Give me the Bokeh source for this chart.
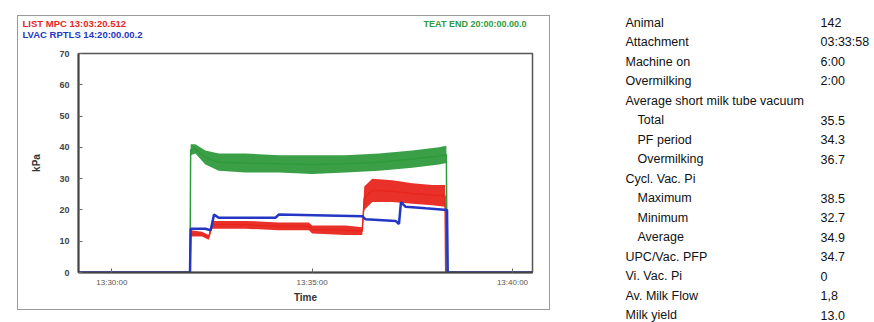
from bokeh.plotting import figure
from bokeh.models import ColumnDataSource, FixedTicker, Spacer
from bokeh.layouts import row, column
from bokeh.embed import file_html
from bokeh.resources import INLINE
from bokeh.core.properties import value

# ---------------- data (time in seconds, vacuum in kPa) ----------------
x_ticks = [50, 350, 650]
x_tick_labels = ["13:30:00", "13:35:00", "13:40:00"]
y_ticks = [0, 10, 20, 30, 40, 50, 60, 70]

green_t  = [0, 167, 168, 175, 190, 210, 250, 300, 350, 400, 450, 500, 540, 551, 552, 680]
green_lo = [0, 0, 37.5, 38.0, 34.5, 32.5, 32.0, 32.0, 31.5, 32.0, 32.5, 33.5, 34.5, 35.0, 0, 0]
green_hi = [0, 0, 41.0, 41.0, 39.0, 38.0, 38.0, 37.5, 37.5, 37.5, 38.0, 39.0, 40.0, 40.5, 0, 0]

red_t  = [0, 167, 168, 185, 195, 200, 250, 300, 345, 350, 400, 425, 428, 440, 470, 500, 530, 549, 550, 680]
red_lo = [0, 0, 11.5, 11.5, 10.5, 14.0, 14.0, 13.5, 13.5, 12.5, 12.0, 12.0, 20.0, 22.5, 22.5, 22.0, 21.5, 21.0, 0, 0]
red_hi = [0, 0, 13.5, 13.0, 12.0, 16.5, 16.5, 16.0, 16.0, 15.0, 15.0, 14.5, 27.5, 30.0, 29.5, 28.5, 28.0, 28.0, 0, 0]

blue_t = [0, 167, 168, 190, 198, 203, 210, 295, 300, 425, 430, 475, 480, 483, 490, 520, 552, 553, 680]
blue_v = [0, 0, 14.0, 14.0, 13.5, 18.5, 17.5, 17.5, 18.5, 18.0, 17.0, 16.5, 15.5, 22.5, 21.0, 20.5, 20.0, 0, 0]

legend_red = "LIST MPC 13:03:20.512"
legend_blue = "LVAC RPTLS 14:20:00.00.2"
legend_green = "TEAT END 20:00:00.00.0"

table_labels = ["Animal", "Attachment", "Machine on", "Overmilking",
                "Average short milk tube vacuum", "Total", "PF period", "Overmilking",
                "Cycl. Vac. Pi", "Maximum", "Minimum", "Average",
                "UPC/Vac. PFP", "Vi. Vac. Pi", "Av. Milk Flow", "Milk yield"]
table_indent = [0, 0, 0, 0, 0, 1, 1, 1, 0, 1, 1, 1, 0, 0, 0, 0]
table_values = ["142", "03:33:58", "6:00", "2:00", "", "35.5", "34.3", "36.7",
                "", "38.5", "32.7", "34.9", "34.7", "0", "1,8", "13.0"]

GREEN = "#2f9a3c"
RED = "#e8261e"
BLUE = "#2336c4"
FONT = "Liberation Sans"

# ---------------- legend strip above chart ----------------
lg = figure(width=531, height=25, output_backend="svg", toolbar_location=None,
            x_range=(0, 531), y_range=(25, 0), min_border=0,
            x_axis_location=None, y_axis_location=None)
lg.frame_align = False
lg.grid.visible = False
lg.outline_line_color = None
lsrc = ColumnDataSource(dict(x=[4, 4], y=[7, 17.5], txt=[legend_red, legend_blue],
                             col=[RED, BLUE]))
lg.text(x="x", y="y", text="txt", text_color="col", source=lsrc, text_font=value(FONT),
        text_font_size="9.5px", text_font_style="bold", text_baseline="middle")
gsrc_l = ColumnDataSource(dict(x=[508], y=[7], txt=[legend_green]))
lg.text(x="x", y="y", text="txt", source=gsrc_l, text_color=GREEN, text_font=value(FONT),
        text_font_size="9px", text_font_style="bold", text_baseline="middle", text_align="right")

# ---------------- chart ----------------
p = figure(width=531, height=268, output_backend="svg", toolbar_location=None,
           x_range=(0, 680), y_range=(0, 70),
           min_border_left=60, min_border_right=17, min_border_top=12, min_border_bottom=37)
p.frame_align = False
p.outline_line_color = "#555555"
p.outline_line_width = 1.5
p.xgrid.visible = False
p.ygrid.visible = False

gsrc = ColumnDataSource(dict(t=green_t, lo=green_lo, hi=green_hi,
                             mid=[(a + b) / 2 for a, b in zip(green_lo, green_hi)]))
rsrc = ColumnDataSource(dict(t=red_t, lo=red_lo, hi=red_hi,
                             mid=[(a + b) / 2 for a, b in zip(red_lo, red_hi)]))
bsrc = ColumnDataSource(dict(t=blue_t, v=blue_v))

p.varea(x="t", y1="lo", y2="hi", source=gsrc, fill_color=GREEN, fill_alpha=0.95)
p.line(x="t", y="mid", source=gsrc, line_color=GREEN, line_width=1.5)
p.varea(x="t", y1="lo", y2="hi", source=rsrc, fill_color=RED, fill_alpha=0.95)
p.line(x="t", y="mid", source=rsrc, line_color=RED, line_width=1.5)
p.line(x="t", y="v", source=bsrc, line_color=BLUE, line_width=2.5)

p.xaxis.ticker = FixedTicker(ticks=x_ticks)
p.xaxis.major_label_overrides = {t: l for t, l in zip(x_ticks, x_tick_labels)}
p.xaxis.axis_label = "Time"
p.yaxis.ticker = FixedTicker(ticks=y_ticks)
p.yaxis.axis_label = "kPa"
for ax in (p.xaxis[0], p.yaxis[0]):
    ax.axis_line_color = "#444444"
    ax.axis_line_width = 2
    ax.major_tick_line_color = "#666666"
    ax.minor_tick_line_color = None
    ax.major_tick_in = 4
    ax.major_tick_out = 0
    ax.axis_label_text_font = FONT
    ax.major_label_text_font = FONT
    ax.axis_label_text_font_style = "bold"
    ax.axis_label_text_color = "#333333"
p.yaxis.major_label_text_font_size = "9px"
p.yaxis.major_label_text_font_style = "bold"
p.yaxis.major_label_text_color = "#444444"
p.yaxis.major_label_standoff = 9
p.yaxis.axis_label_text_font_size = "10px"
p.yaxis.axis_label_standoff = 14
p.xaxis.major_label_text_font_size = "8px"
p.xaxis.major_label_text_color = "#555555"
p.xaxis.major_label_standoff = 5
p.xaxis.axis_label_text_font_size = "10px"
p.xaxis.axis_label_standoff = 2

panel = column(lg, p, styles={"border": "1px solid #9a9a9a", "background": "white"})

# ---------------- table ----------------
n = len(table_labels)
t = figure(width=324, height=322, output_backend="svg", toolbar_location=None,
           x_range=(0, 324), y_range=(322, 0), min_border=0,
           x_axis_location=None, y_axis_location=None)
t.frame_align = False
t.grid.visible = False
t.outline_line_color = None
row_y = [22 + 19.5 * i for i in range(n)]
tsrc = ColumnDataSource(dict(x=[75 + 12 * k for k in table_indent], y=row_y, lab=table_labels,
                             vx=[270] * n, val=table_values))
t.text(x="x", y="y", text="lab", source=tsrc, text_font=value(FONT), text_font_size="12.5px",
       text_baseline="middle", text_color="#111111")
t.text(x="vx", y="y", text="val", source=tsrc, text_font=value(FONT), text_font_size="12.5px",
       text_baseline="middle", text_color="#111111")

layout = row(Spacer(width=17), column(Spacer(height=15), panel), t)
open("out.html", "w").write(file_html(layout, INLINE))
